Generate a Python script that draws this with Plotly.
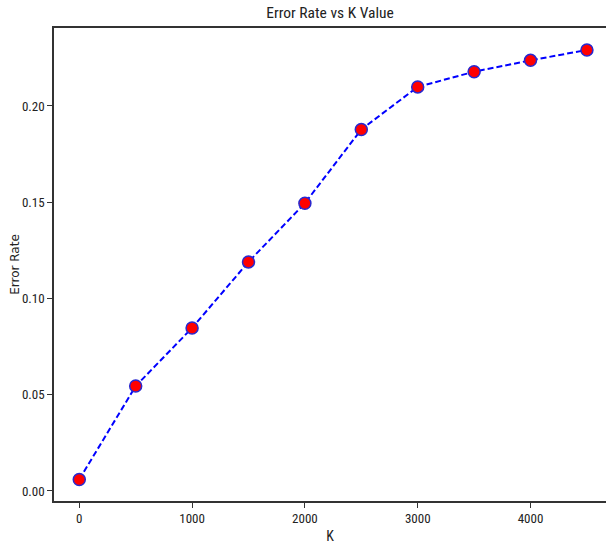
import plotly.graph_objects as go

k_values = [0, 500, 1000, 1500, 2000, 2500, 3000, 3500, 4000, 4500]
error_rates = [0.0060, 0.0545, 0.0847, 0.1190, 0.1495, 0.1878, 0.2099, 0.2178, 0.2237, 0.2291]
x_ticks = [0, 1000, 2000, 3000, 4000]
y_ticks = [0.00, 0.05, 0.10, 0.15, 0.20]
y_tick_labels = ["0.00", "0.05", "0.10", "0.15", "0.20"]

FONT = "Liberation Sans Narrow, Roboto Condensed, DejaVu Sans Condensed, Liberation Sans, sans-serif"

fig = go.Figure()
fig.add_trace(go.Scatter(
    x=k_values, y=error_rates, mode="lines+markers",
    line=dict(color="#0000ff", width=2, dash="6px,3px"),
    marker=dict(color="#ff0000", size=12, line=dict(color="#2828d0", width=1.5)),
    showlegend=False,
))

axis_common = dict(
    showline=True, linecolor="#333333", linewidth=1.5,
    ticks="outside", ticklen=5, tickwidth=1, tickcolor="#333333",
    showgrid=False, zeroline=False,
    tickfont=dict(family=FONT, size=13, color="#222222"),
)

fig.update_layout(
    width=606, height=545,
    margin=dict(l=54, r=0, t=28, b=44),
    paper_bgcolor="white", plot_bgcolor="white",
    title=dict(text="Error Rate vs K Value", x=(54 + 606) / 2 / 606, xanchor="center",
               y=1 - 13 / 545, yanchor="middle",
               font=dict(family=FONT, size=15.5, color="#222222")),
    xaxis=dict(range=[-224, 4669], tickvals=x_ticks, mirror=True,
               title=dict(text="K", standoff=6, font=dict(family=FONT, size=14, color="#222222")),
               **axis_common),
    yaxis=dict(range=[-0.0052, 0.2405], tickvals=y_ticks, ticktext=y_tick_labels, mirror=False,
               title=dict(text="Error Rate", standoff=0, font=dict(family="DejaVu Sans, sans-serif", size=12, color="#222222")),
               **axis_common),
)

fig.write_html("out.html")
